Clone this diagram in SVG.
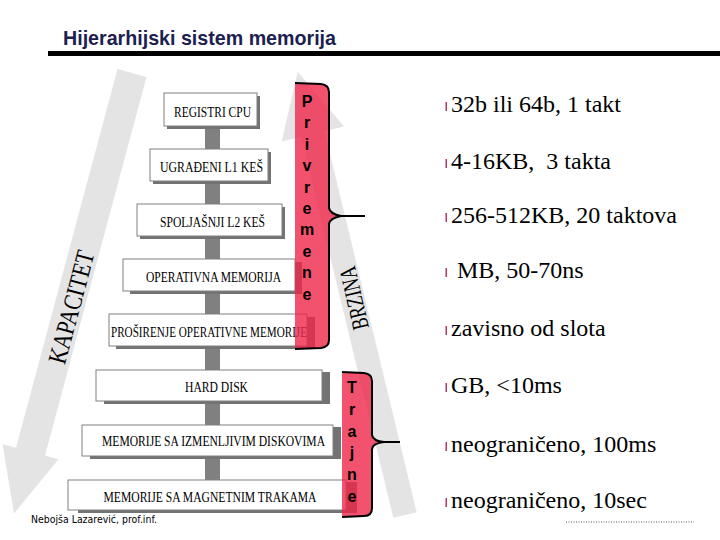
<svg xmlns="http://www.w3.org/2000/svg" width="720" height="540" viewBox="0 0 720 540">
<style>
.arrow{fill:#e4e4e4}
.atxt{font-family:"Liberation Serif","Times New Roman",serif;fill:#000;text-anchor:middle}
.bg{fill:#fff;stroke:#808080;stroke-width:1}
.sh{fill:#737373}
.bt{font-family:"Liberation Serif","Times New Roman",serif;font-size:15px;fill:#000;text-anchor:middle}
.br{fill:#ef274a;fill-opacity:0.8}
.bs{fill:none;stroke:#000;stroke-width:2;stroke-linejoin:round}
.bl{font-family:"Liberation Sans",Arial,sans-serif;font-weight:bold;font-size:16px;fill:#000;text-anchor:middle}
.rt{font-family:"Liberation Serif","Times New Roman",serif;font-size:24px;fill:#000}
.bul{fill:#b03a5a}
</style>
<rect width="720" height="540" fill="#fff"/>
<g id="title">
<text x="63" y="45" font-family="Liberation Sans,Arial,sans-serif" font-weight="bold" font-size="21" fill="#1c2050" textLength="273" lengthAdjust="spacingAndGlyphs">Hijerarhijski sistem memorija</text>
<rect x="48" y="51" width="672" height="5" fill="#000"/>
</g>
<g id="kapacitet">
<polygon class="arrow" transform="translate(132,73) rotate(15)" points="-15,0 15,0 15,392 29,392 0,456 -29,392 -15,392"/>
<g transform="translate(71,307) rotate(-75)"><text class="atxt" x="0" y="9" font-size="26" textLength="116" lengthAdjust="spacingAndGlyphs">KAPACITET</text></g>
</g>
<g id="brzina">
<polygon class="arrow" transform="translate(405,515) rotate(-13.6)" points="-12,0 12,0 12,-392 32,-392 0,-456 -32,-392 -12,-392"/>
<g transform="translate(354,298) rotate(-103)"><text class="atxt" x="0" y="8" font-size="24" textLength="64" lengthAdjust="spacingAndGlyphs">BRZINA</text></g>
</g>
<g id="connectors">
<rect x="205" y="126" width="15" height="356" fill="#808080"/>
</g>
<g id="registri">
<rect class="sh" x="167" y="96" width="93" height="33"/>
<rect class="bg" x="164" y="93" width="93" height="33"/>
<text class="bt" x="212.5" y="117" textLength="77" lengthAdjust="spacingAndGlyphs">REGISTRI CPU</text>
</g>
<g id="l1">
<rect class="sh" x="153" y="152" width="118" height="32"/>
<rect class="bg" x="150" y="149" width="118" height="32"/>
<text class="bt" x="211.5" y="172" textLength="103" lengthAdjust="spacingAndGlyphs">UGRAĐENI L1  KEŠ</text>
</g>
<g id="l2">
<rect class="sh" x="140" y="207" width="145" height="32"/>
<rect class="bg" x="137" y="204" width="145" height="32"/>
<text class="bt" x="212.5" y="227" textLength="105" lengthAdjust="spacingAndGlyphs">SPOLJAŠNJI L2 KEŠ</text>
</g>
<g id="operativna">
<rect class="sh" x="130" y="262" width="172" height="32"/>
<rect class="bg" x="123" y="259" width="172" height="32"/>
<text class="bt" x="213.5" y="282" textLength="135" lengthAdjust="spacingAndGlyphs">OPERATIVNA MEMORIJA</text>
</g>
<g id="prosirenje">
<rect class="sh" x="116" y="317" width="199" height="32"/>
<rect class="bg" x="109" y="314" width="198" height="32"/>
<text class="bt" x="209" y="337" textLength="196" lengthAdjust="spacingAndGlyphs">PROŠIRENJE OPERATIVNE MEMORIJE</text>
</g>
<g id="harddisk">
<rect class="sh" x="104" y="372" width="226" height="32"/>
<rect class="bg" x="96" y="370" width="226" height="31"/>
<text class="bt" x="216.5" y="392" textLength="63" lengthAdjust="spacingAndGlyphs">HARD DISK</text>
</g>
<g id="izmenljivi">
<rect class="sh" x="90" y="427" width="251" height="32"/>
<rect class="bg" x="82" y="425" width="251" height="31"/>
<text class="bt" x="213.5" y="446" textLength="223" lengthAdjust="spacingAndGlyphs">MEMORIJE SA IZMENLJIVIM DISKOVIMA</text>
</g>
<g id="trake">
<rect class="sh" x="78" y="482" width="279" height="31"/>
<rect class="bg" x="68" y="480" width="278" height="30"/>
<text class="bt" x="210" y="502" textLength="213" lengthAdjust="spacingAndGlyphs">MEMORIJE SA MAGNETNIM TRAKAMA</text>
</g>
<g id="privremene">
<path class="br" d="M295,83 L321,84 Q329,85 329,92 L329,208 Q329,214 338,216 Q329,218 329,224 L329,340 Q329,347 321,348 L295,349 Z"/>
<path class="bs" d="M295,83 L321,84 Q329,85 329,92 L329,208 Q330,214 341,216 L365,216 M341,216 Q330,218 329,224 L329,340 Q329,347 321,348 L295,349"/>
<text class="bl"><tspan x="307" y="107">P</tspan><tspan x="307" y="128.4">r</tspan><tspan x="307" y="149.8">i</tspan><tspan x="307" y="171.2">v</tspan><tspan x="307" y="192.6">r</tspan><tspan x="307" y="214">e</tspan><tspan x="307" y="235.4">m</tspan><tspan x="307" y="256.8">e</tspan><tspan x="307" y="278.2">n</tspan><tspan x="307" y="299.6">e</tspan></text>
</g>
<g id="trajne">
<path class="br" d="M342,372 L364,373 Q372,374 372,381 L372,435 Q372,441 381,442 Q372,443 372,449 L372,508 Q372,516 364,516 L342,517 Z"/>
<path class="bs" d="M342,372 L364,373 Q372,374 372,381 L372,435 Q373,441 384,442 L400,442 M384,442 Q373,443 372,449 L372,508 Q372,516 364,516 L342,517"/>
<text class="bl"><tspan x="352" y="393">T</tspan><tspan x="352" y="414.8">r</tspan><tspan x="352" y="436.6">a</tspan><tspan x="352" y="458.4">j</tspan><tspan x="352" y="480.2">n</tspan><tspan x="352" y="502">e</tspan></text>
</g>
<g id="specs">
<rect class="bul" x="445.5" y="102" width="1.5" height="9"/>
<text class="rt" x="451" y="112">32b ili 64b, 1 takt</text>
<rect class="bul" x="445.5" y="159" width="1.5" height="9"/>
<text class="rt" x="451" y="169" xml:space="preserve">4-16KB,  3 takta</text>
<rect class="bul" x="445.5" y="213" width="1.5" height="9"/>
<text class="rt" x="451" y="223">256-512KB, 20 taktova</text>
<rect class="bul" x="445.5" y="268" width="1.5" height="9"/>
<text class="rt" x="451" y="278" xml:space="preserve"> MB, 50-70ns</text>
<rect class="bul" x="445.5" y="326" width="1.5" height="9"/>
<text class="rt" x="451" y="336">zavisno od slota</text>
<rect class="bul" x="445.5" y="383" width="1.5" height="9"/>
<text class="rt" x="451" y="393">GB, &lt;10ms</text>
<rect class="bul" x="445.5" y="442" width="1.5" height="9"/>
<text class="rt" x="451" y="452">neograničeno, 100ms</text>
<rect class="bul" x="445.5" y="498" width="1.5" height="9"/>
<text class="rt" x="451" y="508">neograničeno, 10sec</text>
</g>
<g id="footer">
<text x="31" y="523" font-family="DejaVu Sans,Verdana,sans-serif" font-size="10" fill="#000" textLength="126" lengthAdjust="spacingAndGlyphs">Nebojša Lazarević, prof.inf.</text>
<line x1="566" y1="522" x2="694" y2="522" stroke="#555" stroke-width="1" stroke-dasharray="1 1.5"/>
</g>
</svg>
